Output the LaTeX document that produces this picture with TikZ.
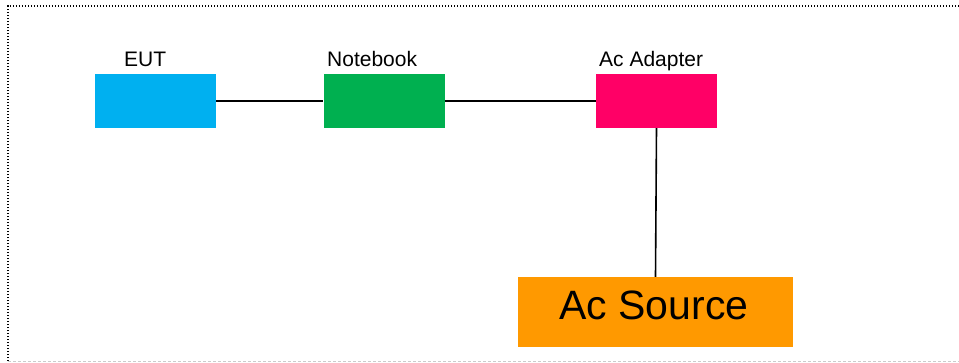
\documentclass[tikz,border=0pt]{standalone}
\usepackage{fontspec}
\setmainfont{Liberation Sans}
\definecolor{eutblue}{HTML}{00B0F0}
\definecolor{nbgreen}{HTML}{00B050}
\definecolor{adred}{HTML}{FF0066}
\definecolor{srcorange}{HTML}{FF9900}
\begin{document}
\begin{tikzpicture}[x=1pt,y=-1pt,
  blk/.style={draw=none,inner sep=0pt,minimum width=121pt,minimum height=54pt},
  lbl/.style={inner sep=0pt,anchor=base west,font=\fontsize{21}{24}\selectfont},
  wire/.style={draw=black,line width=1.6pt}]
\useasboundingbox (0,0) rectangle (959,362);
% frame
\draw[line width=1.4pt,dash pattern=on 1.4pt off 1.6pt] (8,361) -- (8,6) -- (959,6);
\draw[gray!40,line width=0.8pt,dash pattern=on 3pt off 2pt] (8,361.3) -- (959,361.3);
% blocks
\node[blk,fill=eutblue] (eut) at (155.5,101) {};
\node[blk,fill=nbgreen] (nb) at (384,101) {};
\node[blk,fill=adred] (ad) at (656.5,101) {};
\node[draw=none,fill=srcorange,inner sep=0pt,minimum width=275pt,minimum height=70pt] (src) at (655.5,312) {};
\node[inner sep=0pt,anchor=base,font=\fontsize{41}{46}\selectfont] (srctext) at (654,319) {Ac Source};
% labels
\node[lbl] (leut) at (124,66.5) {EUT};
\node[lbl] (lnb) at (327,66.5) {Notebook};
\node[lbl] (lad) at (599,66.5) {Ac Adapter};
% wires
\draw[wire] (eut.east) -- (nb.west);
\draw[wire] (nb.east) -- (ad.west);
\draw[wire] (ad.south) -- (src.north);
\end{tikzpicture}
\end{document}
